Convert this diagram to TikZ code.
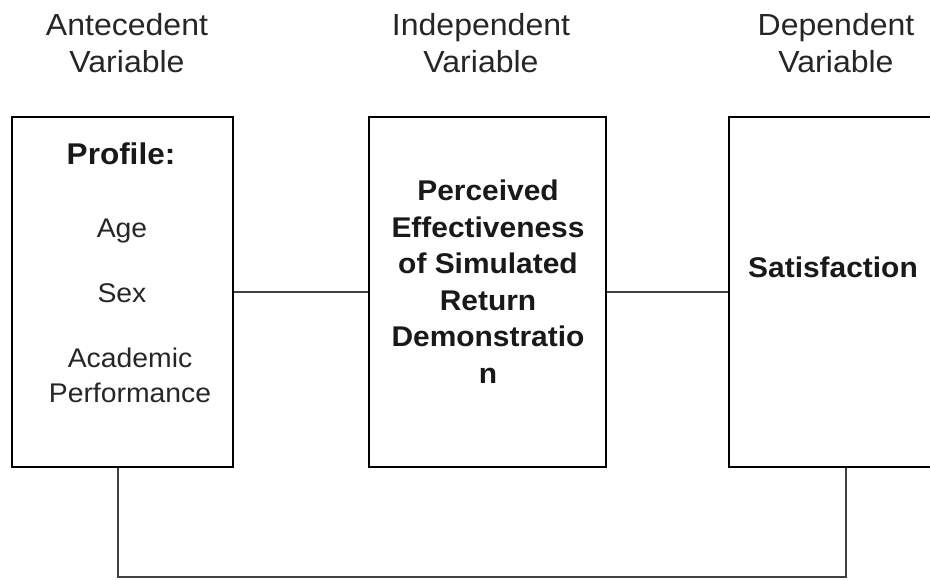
\documentclass[tikz,border=0pt]{standalone}
\usepackage{fontspec}
\setmainfont{Liberation Sans}[FakeStretch=1.05]
\begin{document}
\begin{tikzpicture}[x=1pt,y=-1pt,
  box/.style={draw=black,line width=2.4pt,minimum height=350pt,inner sep=0pt,fill=white},
  conn/.style={draw=black!75,line width=1.1pt},
  head/.style={align=center,font=\fontsize{30.5}{37}\selectfont,text=black!85,inner sep=0pt,anchor=base},
  reg/.style={align=center,font=\fontsize{27}{35}\selectfont,text=black!85,inner sep=0pt,anchor=base},
  bld/.style={align=center,font=\fontsize{28.5}{36.5}\selectfont\bfseries,text=black!90,inner sep=0pt,anchor=base}]
\useasboundingbox (0,0) rectangle (930,579);
\begin{scope}
\clip (0,0) rectangle (930,579);
% boxes
\node[box,minimum width=221pt] (ante) at (122.5,292) {};
\node[box,minimum width=237pt] (inde) at (487.5,292) {};
\node[box,minimum width=211pt] (depe) at (834.5,292) {};
% connectors
\coordinate (bl) at (118,577);
\coordinate (br) at (846,577);
\draw[conn] (ante.east) -- (inde.west);
\draw[conn] (inde.east) -- (depe.west);
\draw[conn] (ante.south -| bl) -- (bl) -- (br) -- (depe.south -| br);
% headers (base = last line)
\node[head] (h1) at (127,72) {Antecedent\\Variable};
\node[head] (h2) at (481,72) {Independent\\Variable};
\node[head] (h3) at (836,72) {Dependent\\Variable};
% left box text
\node[bld,font=\fontsize{30}{36}\selectfont\bfseries] (prof) at (121,164) {Profile:};
\node[reg] (age) at (122,237) {Age};
\node[reg] (sex) at (122,302) {Sex};
\node[reg] (acad) at (130,402) {Academic\\Performance};
% middle text
\node[bld] (pe) at (488,383) {Perceived\\Effectiveness\\of Simulated\\Return\\Demonstratio\\n};
% right text
\node[bld] (sat) at (833,277) {Satisfaction};
\end{scope}
\end{tikzpicture}
\end{document}
